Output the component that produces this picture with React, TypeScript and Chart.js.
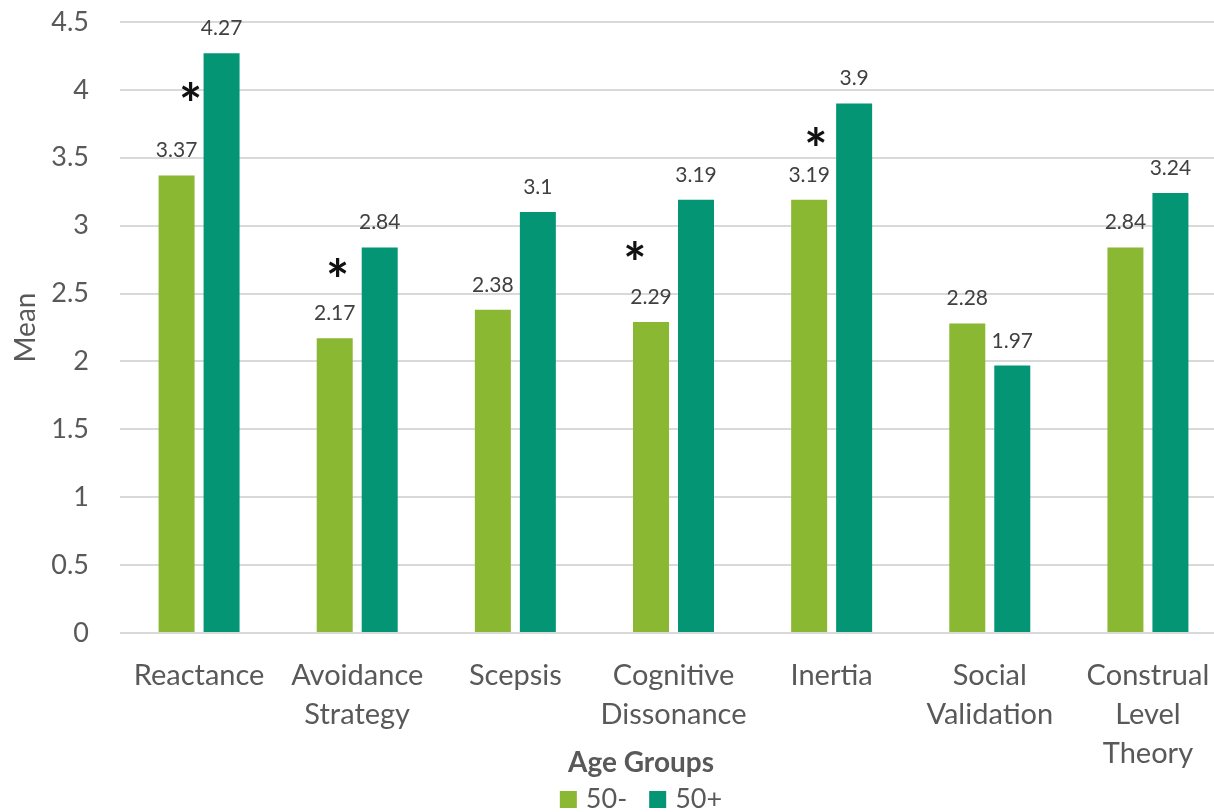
import React, { useEffect, useRef } from "react";
import { Chart, registerables } from "chart.js";

Chart.register(...registerables);

// Factor names (multi-line labels as shown on the axis)
const categories: (string | string[])[] = [
  "Reactance",
  ["Avoidance", "Strategy"],
  "Scepsis",
  ["Cognitive", "Dissonance"],
  "Inertia",
  ["Social", "Validation"],
  ["Construal", "Level", "Theory"],
];

// Mean scores per age group
const under50 = [3.37, 2.17, 2.38, 2.29, 3.19, 2.28, 2.84];
const over50 = [4.27, 2.84, 3.1, 3.19, 3.9, 1.97, 3.24];

const seriesLabels = ["50-", "50+"];
const legendTitle = "Age Groups";
const yTitle = "Mean";

// Y axis ticks
const yTicks = [0, 0.5, 1, 1.5, 2, 2.5, 3, 3.5, 4, 4.5];

// Categories with a significant age difference (index into categories)
const significantIdx = [0, 1, 3, 4];

const FONT = "Lato, 'Open Sans', sans-serif";
const GREEN = "#8AB833";
const TEAL = "#039574";
const AXIS_TEXT = "#595959";
const LABEL_TEXT = "#404040";

// Where each asterisk sits: shift along the category axis and height in data units
const starAnchors: Record<number, { shift: number; y: number }> = {
  0: { shift: -0.054, y: 3.99 },
  1: { shift: -0.124, y: 2.69 },
  3: { shift: -0.245, y: 2.82 },
  4: { shift: -0.1, y: 3.66 },
};

const annotations = {
  id: "annotations",
  afterDatasetsDraw(chart: any) {
    const { ctx } = chart;
    const xScale = chart.scales.x;
    const yScale = chart.scales.y;

    // value labels above each bar
    ctx.save();
    ctx.font = `21px ${FONT}`;
    ctx.fillStyle = LABEL_TEXT;
    ctx.textAlign = "center";
    ctx.textBaseline = "alphabetic";
    chart.data.datasets.forEach((ds: any, di: number) => {
      const meta = chart.getDatasetMeta(di);
      meta.data.forEach((bar: any, i: number) => {
        const v = ds.data[i];
        ctx.fillText(String(v), bar.x, bar.y - 18);
      });
    });
    ctx.restore();

    // significance asterisks
    ctx.save();
    ctx.fillStyle = "#111111";
    ctx.textAlign = "center";
    ctx.textBaseline = "alphabetic";
    ctx.font = `bold 100px ${FONT}`;
    const m100 = ctx.measureText("*");
    const ink100 = (m100.actualBoundingBoxLeft + m100.actualBoundingBoxRight) || 40;
    const size = (18 / ink100) * 100;
    ctx.font = `bold ${size}px ${FONT}`;
    const m = ctx.measureText("*");
    const mid = (m.actualBoundingBoxAscent - m.actualBoundingBoxDescent) / 2;
    const hMid = (m.actualBoundingBoxRight - m.actualBoundingBoxLeft) / 2;
    significantIdx.forEach((ci) => {
      const a = starAnchors[ci];
      const px = xScale.getPixelForValue(ci + a.shift);
      const py = yScale.getPixelForValue(a.y);
      ctx.fillText("*", px - hMid, py + mid);
    });
    ctx.restore();
  },
  afterDraw(chart: any) {
    const { ctx } = chart;
    const cx = 641;
    ctx.save();
    ctx.fillStyle = AXIS_TEXT;
    ctx.textAlign = "center";
    ctx.textBaseline = "alphabetic";
    ctx.font = `bold 28px ${FONT}`;
    ctx.fillText(legendTitle, cx, 772);

    ctx.font = `27px ${FONT}`;
    ctx.textAlign = "left";
    const box = 17;
    const gap = 9;
    const spacing = 22;
    const items = chart.data.datasets.map((ds: any) => ({
      text: ds.label,
      color: ds.backgroundColor,
      w: box + gap + ctx.measureText(ds.label).width,
    }));
    const total = items.reduce((s: number, it: any) => s + it.w, 0) + spacing * (items.length - 1);
    let x = cx - total / 2;
    items.forEach((it: any) => {
      ctx.fillStyle = it.color;
      ctx.fillRect(x, 791, box, box);
      ctx.fillStyle = AXIS_TEXT;
      ctx.fillText(it.text, x + box + gap, 808);
      x += it.w + spacing;
    });
    ctx.restore();
  },
};

export default function App() {
  const ref = useRef<HTMLCanvasElement | null>(null);

  useEffect(() => {
    if (!ref.current) return;
    const chart = new Chart(ref.current, {
      type: "bar",
      data: {
        labels: categories,
        datasets: [
          {
            label: seriesLabels[0],
            data: under50,
            backgroundColor: GREEN,
            categoryPercentage: 0.569,
            barPercentage: 0.8,
          },
          {
            label: seriesLabels[1],
            data: over50,
            backgroundColor: TEAL,
            categoryPercentage: 0.569,
            barPercentage: 0.8,
          },
        ],
      },
      options: {
        responsive: false,
        animation: false,
        devicePixelRatio: 1,
        layout: { padding: { top: 22, right: 1, left: 0, bottom: 0 } },
        plugins: {
          legend: { display: false },
          tooltip: { enabled: false },
        },
        scales: {
          x: {
            grid: { display: false, drawTicks: false },
            border: { display: false },
            ticks: {
              color: AXIS_TEXT,
              padding: 23,
              maxRotation: 0,
              autoSkip: false,
              font: { family: FONT, size: 29, lineHeight: 1.345 },
            },
            afterFit(scale: any) {
              scale.height = 179;
              scale.paddingLeft = 0;
              scale.paddingRight = 0;
            },
          },
          y: {
            min: 0,
            max: 4.5,
            afterBuildTicks(scale: any) {
              scale.ticks = yTicks.map((v) => ({ value: v }));
            },
            grid: { color: "#d9d9d9", lineWidth: 2, drawTicks: false },
            border: { display: false },
            ticks: {
              color: AXIS_TEXT,
              padding: 31,
              font: { family: FONT, size: 27 },
              callback: (v: any) => String(v),
            },
            title: {
              display: true,
              text: yTitle,
              color: AXIS_TEXT,
              padding: { top: 9, bottom: 0 },
              font: { family: FONT, size: 28 },
            },
            afterFit(scale: any) {
              scale.width = 120;
              scale.paddingTop = 0;
              scale.paddingBottom = 0;
            },
          },
        },
      },
      plugins: [annotations],
    });
    return () => chart.destroy();
  }, []);

  return (
    <div
      style={{
        position: "absolute",
        left: 0,
        top: 0,
        width: 1214,
        height: 812,
        overflow: "hidden",
        background: "#ffffff",
      }}
    >
      <canvas ref={ref} width={1228} height={812} style={{ width: 1228, height: 812, display: "block" }} />
    </div>
  );
}
